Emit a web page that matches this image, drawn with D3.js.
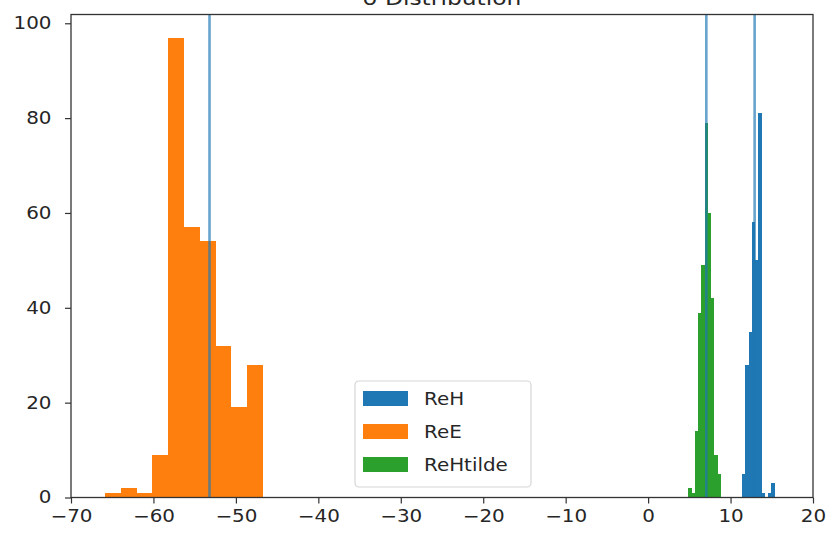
<!DOCTYPE html>
<html>
<head>
<meta charset="utf-8">
<script src="https://cdn.jsdelivr.net/npm/d3@7"></script>
<style>
  body { margin: 0; background: #fff; }
  text { font-family: "DejaVu Sans", sans-serif; fill: #262626; }
</style>
</head>
<body>
<svg id="chart" width="827" height="537"></svg>
<script>
// Histogram counts per bin and the bin edges for each quantity
const seriesNames = ["ReH", "ReE", "ReHtilde"];
const seriesColors = ["#1f77b4", "#ff7f0e", "#2ca02c"];

const reHEdges = [11.39, 11.79, 12.18, 12.58, 12.97, 13.37, 13.77, 14.16, 14.56, 14.95, 15.35];
const reHCounts = [5, 28, 35, 58, 50, 81, 1, 0, 1, 3];

const reEEdges = [-65.88, -63.96, -62.04, -60.13, -58.21, -56.30, -54.38, -52.46, -50.55, -48.63, -46.71];
const reECounts = [1, 2, 1, 9, 97, 57, 54, 32, 19, 28];

const reHtildeEdges = [4.88, 5.28, 5.67, 6.07, 6.46, 6.86, 7.26, 7.65, 8.05, 8.44, 8.84];
const reHtildeCounts = [2, 1, 14, 39, 49, 79, 60, 42, 9, 5];

// Vertical reference lines
const refLines = [-53.2, 7.06, 12.92];

const xTicks = [-70, -60, -50, -40, -30, -20, -10, 0, 10, 20];
const yTicks = [0, 20, 40, 60, 80, 100];
const xDomain = [-70, 20];
const yDomain = [0, 101.85];

const titleText = "σ Distribution";

// ---- layout ----
const plot = { left: 71, right: 813, top: 14.5, bottom: 497.5 };
const stretch = 1.17;          // horizontal text stretch
const fontSize = 17;

const svg = d3.select("#chart");

const x = d3.scaleLinear().domain(xDomain).range([plot.left, plot.right]);
const y = d3.scaleLinear().domain(yDomain).range([plot.bottom, plot.top]);

// build bins from edges + counts
function toBins(edges, counts) {
  return counts.map((c, i) => ({ x0: edges[i], x1: edges[i + 1], count: c }));
}
const series = [
  toBins(reHEdges, reHCounts),
  toBins(reEEdges, reECounts),
  toBins(reHtildeEdges, reHtildeCounts)
];

const clipId = "plot-clip";
svg.append("defs").append("clipPath").attr("id", clipId)
  .append("rect")
  .attr("x", plot.left).attr("y", plot.top)
  .attr("width", plot.right - plot.left).attr("height", plot.bottom - plot.top);

const gPlot = svg.append("g").attr("clip-path", `url(#${clipId})`);

// histogram bars
series.forEach((bins, si) => {
  gPlot.append("g")
    .attr("fill", seriesColors[si])
    .attr("shape-rendering", "crispEdges")
    .selectAll("rect")
    .data(bins.filter(d => d.count > 0))
    .join("rect")
    .attr("x", d => x(d.x0))
    .attr("width", d => x(d.x1) - x(d.x0))
    .attr("y", d => y(d.count))
    .attr("height", d => y(0) - y(d.count));
});

// vertical lines
gPlot.append("g")
  .selectAll("line")
  .data(refLines)
  .join("line")
  .attr("x1", d => x(d)).attr("x2", d => x(d))
  .attr("y1", plot.top).attr("y2", plot.bottom)
  .attr("stroke", "#1f77b4")
  .attr("stroke-opacity", 0.68)
  .attr("stroke-width", 2.6);

// axes
const xAxis = d3.axisBottom(x).tickValues(xTicks).tickSize(6).tickPadding(5)
  .tickFormat(d => d3.format("d")(d).replace("-", "\u2212"));
const yAxis = d3.axisLeft(y).tickValues(yTicks).tickSize(6).tickPadding(6)
  .tickFormat(d3.format("d"));

const gx = svg.append("g").attr("transform", `translate(0,${plot.bottom})`).call(xAxis);
const gy = svg.append("g").attr("transform", `translate(${plot.left},0)`).call(yAxis);

[gx, gy].forEach(g => {
  g.select(".domain").remove();
  g.selectAll(".tick line").attr("stroke", "#333").attr("stroke-width", 1.2);
  g.selectAll(".tick text")
    .attr("font-size", fontSize)
    .attr("font-family", "DejaVu Sans, sans-serif")
    .attr("fill", "#262626");
});
gx.selectAll(".tick text").attr("dy", "0.71em").attr("y", 12)
  .attr("transform", `scale(${stretch},1)`);
gy.selectAll(".tick text").attr("x", -19.5 / stretch)
  .attr("transform", `scale(${stretch},1)`);

// spines
svg.append("rect")
  .attr("x", plot.left).attr("y", plot.top)
  .attr("width", plot.right - plot.left).attr("height", plot.bottom - plot.top)
  .attr("fill", "none").attr("stroke", "#333").attr("stroke-width", 1.3);

// title (top of the figure)
svg.append("text")
  .attr("transform", `translate(${(plot.left + plot.right) / 2},4.5) scale(${stretch},1)`)
  .attr("text-anchor", "middle")
  .attr("font-size", 20)
  .text(titleText);

// legend
const legend = svg.append("g").attr("transform", "translate(355,381)");
legend.append("rect")
  .attr("x", 0).attr("y", 0).attr("width", 176).attr("height", 106)
  .attr("rx", 4).attr("ry", 4)
  .attr("fill", "#fff").attr("fill-opacity", 0.85)
  .attr("stroke", "#d6d6d6").attr("stroke-width", 1.2);
const rows = legend.selectAll("g.row")
  .data(seriesNames)
  .join("g").attr("class", "row")
  .attr("transform", (d, i) => `translate(8,${10 + i * 33})`);
rows.append("rect")
  .attr("width", 45).attr("height", 15)
  .attr("fill", (d, i) => seriesColors[i]);
rows.append("text")
  .attr("transform", `translate(61,7.5) scale(${stretch},1)`)
  .attr("dy", "0.36em")
  .attr("font-size", fontSize)
  .text(d => d);
</script>
</body>
</html>
